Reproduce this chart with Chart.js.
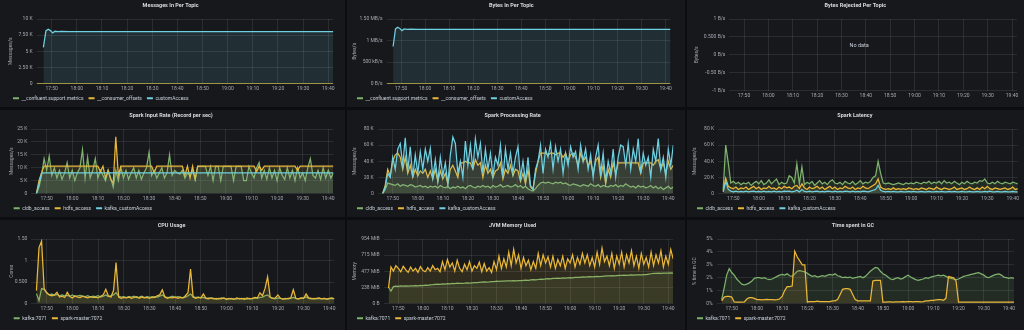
<!DOCTYPE html>
<html>
<head>
<meta charset="utf-8">
<title>Kafka / Spark overview</title>
<script src="https://cdn.jsdelivr.net/npm/chart.js@4.4.1/dist/chart.umd.min.js"></script>
<style>
  html, body { margin: 0; padding: 0; background: #0c0d0f; }
  body { position: relative; width: 1024px; height: 330px; overflow: hidden; }
  .panel { position: absolute; background: #17181c; overflow: hidden; }
  .panel canvas { position: absolute; left: 0; top: 0; }
</style>
</head>
<body>
<div class="panel" style="left:0;top:0;width:345px;height:107px"><canvas id="messagesIn" width="345" height="107"></canvas></div>
<div class="panel" style="left:347px;top:0;width:338px;height:107px"><canvas id="bytesIn" width="338" height="107"></canvas></div>
<div class="panel" style="left:687px;top:0;width:337px;height:107px"><canvas id="bytesRejected" width="337" height="107"></canvas></div>
<div class="panel" style="left:0;top:110px;width:345px;height:107px"><canvas id="inputRate" width="345" height="107"></canvas></div>
<div class="panel" style="left:347px;top:110px;width:338px;height:107px"><canvas id="processingRate" width="338" height="107"></canvas></div>
<div class="panel" style="left:687px;top:110px;width:337px;height:107px"><canvas id="latency" width="337" height="107"></canvas></div>
<div class="panel" style="left:0;top:220px;width:345px;height:110px"><canvas id="cpu" width="345" height="107"></canvas></div>
<div class="panel" style="left:347px;top:220px;width:338px;height:110px"><canvas id="jvm" width="338" height="107"></canvas></div>
<div class="panel" style="left:687px;top:220px;width:337px;height:110px"><canvas id="gc" width="337" height="107"></canvas></div>

<script>
// ---- time axis -------------------------------------------------------------
// sample clock: minutes past 17:00, one sample a minute from 17:46 to 19:42
const clock = Array.from({ length: 117 }, (_, i) => 46 + i);
const timeTicks = ['17:50', '18:00', '18:10', '18:20', '18:30', '18:40', '18:50', '19:00', '19:10', '19:20', '19:30', '19:40'];
const rangeStart = '17:44';
const rangeEnd = '19:42';

// ---- Messages In / Bytes In (steady topics) ---------------------------------
const topicTimes = [46.7, 47.7, 48.6, 49.5, 50.4, 51.3, 52.5, 54, 57, 60, 80, 100, 120, 140, 162];
const idleTimes = [44, 162];
const msgCustomAccess = [5.6, 8.15, 8.4, 8.2, 7.85, 8.1, 8.05, 8.1, 8.05, 8.05, 8.05, 8.03, 8.03, 8.03, 8.03]; // K msg/s
const msgSupportMetrics = [0, 0];
const msgConsumerOffsets = [0, 0];
const bytesCustomAccess = [0.86, 1.27, 1.31, 1.28, 1.23, 1.27, 1.26, 1.265, 1.26, 1.26, 1.26, 1.26, 1.26, 1.26, 1.26]; // MB/s
const bytesSupportMetrics = [0, 0];
const bytesConsumerOffsets = [0, 0];

const msgTicks = ['0', '2.50 K', '5 K', '7.50 K', '10 K'];
const bytesTicks = ['0 B/s', '500 kB/s', '1 MB/s', '1.50 MB/s'];
const rejectedTicks = ['-1 B/s', '-0.50 B/s', '0 B/s', '0.500 B/s', '1 B/s'];

// ---- Spark input rate (K records/s) ------------------------------------------
const inputCldb = [
  0, 2.5, 7, 13.5, 9, 14.5, 7, 10, 6, 9,
  5.5, 8, 12, 6, 9, 5, 8, 10, 17, 6,
  14, 6, 9, 13.5, 6, 9, 7, 5, 9, 6,
  2.5, 9, 5, 10, 6, 9, 5.5, 8, 10, 6,
  9, 5.5, 8, 10, 16, 7, 9, 6, 8, 10,
  6, 8, 15, 7, 9, 8, 7.5, 9, 6, 8,
  7, 9, 5.5, 10.5, 10.5, 10.5, 10.5, 7, 10.5, 5,
  10.5, 10.5, 5, 10.5, 10.5, 10.5, 10.5, 5, 10.5, 10.5,
  10.5, 5, 5, 10.5, 8, 6, 10, 12, 6, 9,
  5.5, 10, 6, 9, 5, 10, 7, 5.5, 10, 6,
  9, 5, 10, 6, 8, 5, 10, 13.5, 7, 6,
  9, 5.5, 10, 6, 9, 6, 8
];
const inputHdfs = [
  0, 5, 8, 10.6, 10.6, 10.6, 10.6, 10.6, 10.6, 10.6,
  10.6, 10.6, 10.6, 10.6, 10.6, 10.6, 10.6, 10.6, 10.6, 10.6,
  10.6, 10.6, 10.6, 10.6, 10.6, 8.5, 10.6, 6, 9, 5.5,
  4, 22, 7, 10.6, 10.6, 10.6, 10.6, 10.6, 10.6, 10.6,
  10.6, 10.6, 10.6, 10.6, 10.6, 10.6, 8, 10.6, 10.6, 10.6,
  10.6, 10.6, 10.6, 10.6, 10.6, 10.6, 10.6, 10.6, 7, 10.6,
  6, 10.6, 5.5, 10.6, 10.6, 10.6, 10.6, 10.6, 10.6, 10.6,
  10.6, 10.6, 10.6, 10.6, 10.6, 10.6, 10.6, 10.6, 10.6, 10.6,
  10.6, 10.6, 10.6, 10.6, 10.6, 10.6, 8.5, 10.6, 9, 10.6,
  10.6, 10.6, 10.6, 10.6, 10.6, 10.6, 10.6, 10.6, 10.6, 10.6,
  10.6, 10.6, 9, 10.6, 10.6, 10.6, 10.6, 10.6, 10.6, 10.6,
  10.6, 10.6, 10.6, 10.6, 10.6, 10.6, 10.6
];
const inputKafkaTimes = [46, 47, 48, 49, 162];
const inputKafka = [0, 3.5, 7.8, 8, 8];
const inputTicks = ['0', '5 K', '10 K', '15 K', '20 K', '25 K'];

// ---- Spark processing rate (K records/s) -------------------------------------
const procCldb = [
  0, 5, 13, 12, 11, 10, 12, 9, 11, 10,
  9, 11, 10, 8, 9, 10, 8, 9, 7, 9,
  8, 9, 7, 10, 8, 7, 9, 6, 8, 7,
  9, 7, 8, 6, 9, 10, 8, 7, 9, 8,
  10, 8, 9, 7, 10, 8, 9, 11, 8, 9,
  10, 8, 9, 11, 8, 10, 7, 9, 6, 4,
  3, 6, 10, 13, 14, 13, 14, 13, 12, 14,
  13, 14, 12, 13, 11, 10, 12, 11, 10, 9,
  11, 10, 9, 12, 10, 9, 11, 8, 10, 9,
  8, 10, 9, 11, 8, 10, 9, 12, 10, 8,
  9, 7, 10, 8, 9, 7, 8, 10, 7, 9,
  6, 8, 5, 7, 9, 6, 8
];
const procHdfs = [
  0, 10, 30, 22, 40, 48, 50, 45, 30, 45,
  25, 35, 20, 30, 22, 28, 25, 30, 20, 28,
  18, 30, 15, 28, 18, 25, 12, 30, 35, 28,
  20, 38, 38, 40, 38, 38, 30, 42, 35, 38,
  20, 35, 25, 30, 20, 28, 30, 38, 18, 30,
  25, 35, 22, 30, 28, 15, 25, 12, 30, 8,
  5, 25, 40, 50, 50, 50, 48, 50, 50, 48,
  50, 50, 45, 50, 40, 48, 50, 45, 35, 50,
  40, 45, 35, 40, 25, 40, 45, 20, 35, 12,
  30, 20, 38, 25, 38, 38, 38, 38, 38, 38,
  38, 38, 38, 25, 38, 38, 38, 38, 35, 40,
  42, 30, 38, 25, 40, 30, 35
];
const procKafka = [
  0, 8, 25, 20, 45, 30, 55, 62, 35, 69,
  28, 58, 20, 48, 25, 52, 30, 55, 40, 56,
  20, 42, 15, 45, 22, 38, 12, 48, 70, 62,
  25, 40, 20, 65, 35, 60, 30, 68, 45, 62,
  25, 55, 30, 50, 22, 45, 35, 60, 20, 55,
  30, 50, 25, 45, 58, 20, 40, 15, 45, 10,
  5, 30, 40, 60, 25, 55, 45, 62, 30, 58,
  40, 55, 25, 50, 35, 58, 45, 52, 30, 60,
  40, 55, 30, 48, 20, 45, 60, 25, 50, 15,
  40, 25, 55, 20, 45, 60, 58, 35, 62, 30,
  55, 40, 68, 25, 50, 35, 45, 20, 55, 40,
  68, 30, 45, 20, 55, 35, 60
];
const rateTicks = ['0', '20 K', '40 K', '60 K', '80 K'];

// ---- Spark latency (K) ---------------------------------------------------------
const latCldb = [
  5, 60, 38, 13, 15, 12, 14, 11, 13, 12,
  14, 10, 13, 15, 12, 16, 11, 13, 17, 12,
  15, 18, 11, 14, 12, 13, 22, 20, 13, 37,
  12, 33, 11, 14, 12, 15, 10, 13, 16, 12,
  14, 11, 15, 17, 13, 12, 14, 11, 15, 13,
  12, 15, 11, 13, 16, 12, 14, 13, 15, 20,
  22, 40, 25, 13, 12, 13, 12, 11, 12, 13,
  12, 11, 13, 12, 13, 12, 14, 13, 12, 14,
  13, 15, 12, 14, 13, 15, 12, 16, 13, 14,
  12, 15, 13, 11, 14, 12, 15, 13, 12, 14,
  13, 16, 15, 18, 13, 12, 14, 12, 15, 13,
  12, 14, 13, 12, 14, 13, 12
];
const latHdfs = [
  3, 19, 9, 7, 6, 8, 5, 7, 6, 8,
  5, 7, 9, 6, 8, 5, 7, 6, 9, 6,
  7, 5, 8, 6, 9, 7, 8, 6, 9, 10,
  6, 12, 7, 5, 8, 6, 7, 9, 6, 8,
  5, 7, 9, 6, 8, 5, 7, 6, 9, 7,
  6, 8, 5, 7, 6, 9, 7, 6, 8, 10,
  12, 18, 8, 6, 5, 6, 5, 7, 5, 6,
  5, 6, 5, 7, 6, 5, 6, 5, 7, 6,
  5, 7, 6, 5, 8, 6, 5, 7, 6, 5,
  6, 8, 5, 6, 7, 5, 6, 8, 6, 5,
  7, 5, 8, 6, 9, 6, 5, 7, 6, 5,
  6, 7, 5, 6, 8, 5, 6
];
const latKafka = [
  2, 15, 5, 3, 2, 3, 2, 2.5, 2, 3,
  2, 2.5, 3, 2, 2.5, 2, 3, 2, 2.5, 2,
  3, 2, 2.5, 2, 3, 2.5, 3, 2, 2.5, 4,
  2, 5, 2.5, 2, 3, 2, 2.5, 3, 2, 2.5,
  2, 3, 2.5, 2, 3, 2, 2.5, 2, 3, 2.5,
  2, 3, 2, 2.5, 2, 3, 2.5, 2, 3, 4,
  5, 10, 4, 2.5, 2, 2.5, 2, 2.5, 2, 2,
  2.5, 2, 2, 2.5, 2, 2.5, 2, 2, 2.5, 2,
  2, 2.5, 2, 2, 2.5, 2, 2.5, 2, 2, 2.5,
  2, 2.5, 2, 2, 2.5, 2, 2, 2.5, 2, 2,
  2.5, 2, 2, 2.5, 2, 3, 2, 2, 2.5, 2,
  2, 2.5, 2, 2, 2.5, 2, 2
];

// ---- CPU usage (cores) -------------------------------------------------------
const cpuKafka = [
  0.23, 0.07, 0.35, 0.33, 0.25, 0.2, 0.22, 0.19, 0.21, 0.18,
  0.2, 0.18, 0.19, 0.17, 0.2, 0.16, 0.18, 0.19, 0.17, 0.16,
  0.18, 0.15, 0.17, 0.16, 0.18, 0.15, 0.17, 0.2, 0.16, 0.18,
  0.2, 0.25, 0.17, 0.15, 0.16, 0.14, 0.16, 0.15, 0.17, 0.14,
  0.15, 0.17, 0.14, 0.16, 0.15, 0.13, 0.16, 0.15, 0.17, 0.2,
  0.16, 0.14, 0.15, 0.17, 0.14, 0.16, 0.15, 0.13, 0.15, 0.18,
  0.22, 0.16, 0.14, 0.15, 0.13, 0.14, 0.12, 0.13, 0.12, 0.11,
  0.12, 0.11, 0.13, 0.12, 0.1, 0.11, 0.12, 0.1, 0.11, 0.12,
  0.11, 0.12, 0.1, 0.12, 0.11, 0.13, 0.12, 0.14, 0.15, 0.18,
  0.2, 0.14, 0.12, 0.11, 0.13, 0.12, 0.11, 0.12, 0.11, 0.12,
  0.14, 0.12, 0.11, 0.12, 0.13, 0.15, 0.12, 0.11, 0.12, 0.11,
  0.12, 0.11, 0.12, 0.1, 0.11, 0.12, 0.11
];
const cpuSpark = [
  0.3, 1.3, 1.45, 0.35, 0.25, 0.2, 0.18, 0.2, 0.26, 0.15,
  0.17, 0.14, 0.26, 0.16, 0.13, 0.18, 0.15, 0.14, 0.17, 0.15,
  0.13, 0.16, 0.14, 0.15, 0.13, 0.17, 0.2, 0.33, 0.18, 0.15,
  0.3, 0.95, 0.15, 0.12, 0.14, 0.13, 0.15, 0.12, 0.14, 0.16,
  0.12, 0.15, 0.13, 0.14, 0.12, 0.16, 0.14, 0.18, 0.2, 0.32,
  0.15, 0.12, 0.14, 0.13, 0.15, 0.12, 0.14, 0.13, 0.18, 0.25,
  0.8, 0.15, 0.12, 0.14, 0.13, 0.22, 0.12, 0.11, 0.13, 0.12,
  0.1, 0.12, 0.11, 0.13, 0.1, 0.12, 0.11, 0.1, 0.13, 0.11,
  0.12, 0.1, 0.13, 0.11, 0.12, 0.14, 0.13, 0.25, 0.18, 0.35,
  0.62, 0.15, 0.12, 0.13, 0.2, 0.12, 0.1, 0.11, 0.12, 0.13,
  0.32, 0.12, 0.11, 0.13, 0.12, 0.22, 0.13, 0.12, 0.11, 0.12,
  0.13, 0.11, 0.12, 0.1, 0.12, 0.13, 0.11
];
const cpuTicks = ['0', '0.500', '1', '1.50'];

// ---- JVM memory used (MiB) -----------------------------------------------------
const jvmKafka = [
  240, 185, 250, 258, 255, 262, 258, 260, 256, 262,
  260, 265, 262, 268, 265, 270, 268, 275, 278, 282,
  285, 282, 290, 288, 295, 292, 297, 295, 300, 298,
  296, 300, 305, 302, 306, 310, 308, 312, 315, 318,
  316, 320, 325, 322, 330, 328, 332, 330, 335, 333,
  336, 338, 335, 340, 338, 342, 345, 343, 348, 352,
  350, 355, 360, 358, 365, 368, 366, 370, 372, 375,
  372, 378, 376, 380, 382, 380, 385, 388, 386, 392,
  390, 394, 396, 395, 398, 400, 398, 402, 405, 408,
  410, 412, 410, 414, 416, 415, 418, 416, 420, 422,
  420, 424, 422, 425, 428, 426, 435, 440, 444, 446,
  448, 446, 450, 448, 450, 452, 450
];
const jvmSpark = [
  230, 540, 480, 560, 520, 470, 550, 500, 460, 540,
  480, 520, 460, 545, 490, 470, 530, 480, 560, 500,
  520, 470, 620, 500, 650, 540, 600, 480, 640, 520,
  470, 580, 500, 620, 480, 560, 520, 610, 470, 590,
  480, 530, 460, 620, 500, 700, 520, 660, 540, 760,
  560, 800, 600, 720, 520, 680, 560, 640, 500, 620,
  520, 740, 560, 720, 600, 690, 540, 700, 520, 650,
  560, 700, 520, 660, 600, 720, 540, 680, 580, 740,
  600, 720, 560, 680, 540, 760, 580, 820, 620, 700,
  560, 740, 520, 700, 580, 760, 540, 720, 600, 780,
  560, 700, 520, 740, 580, 680, 540, 760, 560, 720,
  600, 780, 540, 700, 580, 800, 660
];
const jvmTicks = ['0 B', '238 MiB', '477 MiB', '715 MiB', '954 MiB'];

// ---- time spent in GC (%) ------------------------------------------------------
const gcKafka = [
  0.3, 1.2, 2.2, 2.7, 2.4, 2.2, 1.9, 1.7, 1.5, 1.45,
  1.5, 1.6, 1.75, 1.95, 2.0, 2.0, 1.95, 2.0, 1.9, 1.85,
  1.9, 2.0, 2.1, 2.2, 2.25, 2.2, 2.3, 2.15, 2.1, 2.3,
  2.5, 2.55, 2.5, 2.45, 2.35, 2.2, 2.1, 2.15, 2.05, 2.1,
  2.15, 2.1, 2.2, 2.25, 2.2, 2.3, 2.15, 2.1, 2.0, 2.05,
  2.0, 2.05, 1.95, 2.0, 2.05, 2.1, 2.0, 2.1, 2.3, 2.5,
  2.65, 2.8, 2.75, 2.5, 2.3, 2.2, 2.05, 1.9, 1.85, 1.95,
  2.0, 1.9, 1.95, 2.1, 2.2, 2.05, 1.95, 1.85, 1.8, 1.85,
  1.9, 2.0, 1.95, 2.05, 2.1, 2.15, 2.2, 2.15, 2.2, 2.1,
  2.0, 1.95, 1.9, 1.85, 1.9, 2.0, 2.1, 2.15, 2.2, 2.25,
  2.3, 2.35, 2.4, 2.3, 2.2, 2.05, 2.0, 2.1, 2.2, 2.25,
  2.3, 2.2, 2.05, 2.0, 1.95, 2.0, 1.95
];
const gcSpark = [
  0.2, 0.5, 0.55, 0.55, 0.5, 0.12, 0.1, 0.1, 0.1, 0.12,
  0.35, 0.45, 0.45, 0.4, 0.3, 0.3, 0.28, 0.3, 0.32, 0.3,
  0.3, 0.28, 0.3, 0.35, 0.55, 1.0, 1.3, 1.3, 1.35, 4.05,
  3.6, 3.3, 3.0, 3.0, 0.12, 0.15, 0.15, 0.15, 0.18, 0.15,
  0.15, 0.15, 0.15, 0.15, 0.2, 0.2, 0.3, 0.7, 1.1, 1.15,
  1.15, 1.1, 0.7, 0.3, 0.2, 0.2, 0.2, 0.2, 0.2, 0.2,
  1.75, 1.8, 1.8, 1.8, 0.1, 0.1, 0.12, 0.12, 0.1, 0.12,
  0.12, 0.12, 0.15, 0.12, 0.15, 0.15, 0.12, 0.15, 0.15, 0.12,
  0.15, 0.2, 0.2, 0.25, 0.25, 0.28, 0.3, 0.3, 0.25, 0.4,
  2.1, 2.05, 2.0, 1.75, 0.1, 0.1, 0.1, 0.1, 0.1, 0.1,
  0.1, 0.1, 0.1, 0.1, 0.1, 0.1, 0.1, 0.1, 0.1, 0.1,
  0.1, 0.1, 0.1, 0.1, 0.1, 0.1, 0.1
];
const gcTicks = ['0%', '1%', '2%', '3%', '4%', '5%'];

// ---- styling -----------------------------------------------------------------
const GREEN = '#7eb26d';
const YELLOW = '#eab839';
const BLUE = '#6ed0e0';
const GRID = 'rgba(255, 255, 255, 0.09)';
const TICK = '#a3a9b0';

Chart.defaults.font.family = 'Roboto, sans-serif';

const toMinutes = s => { const [h, m] = s.split(':').map(Number); return h * 60 + m; };
const points = (times, values) => values.map((v, i) => ({ x: 17 * 60 + times[i], y: v }));

// Grafana-style "No data" caption in the middle of an empty graph
const noDataLabel = {
  id: 'noDataLabel',
  afterDraw(chart) {
    const { ctx, chartArea } = chart;
    ctx.save();
    ctx.fillStyle = '#c7d0d9';
    ctx.font = '5.5px Roboto';
    ctx.textAlign = 'center';
    ctx.textBaseline = 'middle';
    ctx.fillText('No data', (chartArea.left + chartArea.right) / 2 - 14, chartArea.top + 27);
    ctx.restore();
  }
};

function panel(id, p) {
  const n = p.series.length;
  return new Chart(document.getElementById(id), {
    type: 'line',
    data: {
      datasets: p.series.map((s, i) => ({
        label: s.label,
        data: points(s.times || clock, s.values),
        borderColor: s.color,
        backgroundColor: s.color + '1f',
        borderWidth: 1.25,
        pointRadius: 0,
        tension: 0,
        fill: 'origin',
        order: n - i // later series are painted on top
      }))
    },
    options: {
      responsive: false,
      animation: false,
      events: [],
      layout: { padding: { left: p.padLeft, right: p.padRight, top: 0, bottom: n ? 0 : 9 } },
      plugins: {
        title: {
          display: true, text: p.title, color: '#d8d9da',
          font: { size: 5.5, weight: 'bold' },
          padding: { top: 2.7, bottom: 9.7 }
        },
        legend: {
          display: n > 0, position: 'bottom', align: 'start', maxHeight: 16.2,
          labels: {
            color: '#c7d0d9', font: { size: 5 }, boxWidth: 6, boxHeight: 2, padding: 5,
            sort: (a, b) => a.datasetIndex - b.datasetIndex,
            generateLabels: chart => Chart.defaults.plugins.legend.labels.generateLabels(chart)
              .map(item => ({ ...item, fillStyle: item.strokeStyle, lineWidth: 0 }))
          }
        },
        tooltip: { enabled: false }
      },
      scales: {
        x: {
          type: 'linear',
          min: toMinutes(rangeStart),
          max: toMinutes(rangeEnd),
          afterBuildTicks: s => { s.ticks = timeTicks.map(t => ({ value: toMinutes(t) })); },
          afterFit: s => { s.height = 7.3; },
          grid: { color: GRID, drawTicks: false },
          border: { display: false },
          ticks: {
            color: TICK, font: { size: 5 }, padding: 2.5, maxRotation: 0, autoSkip: false,
            callback: (v, i) => timeTicks[i]
          }
        },
        y: {
          min: p.min,
          max: p.max,
          afterFit: s => { s.width = p.yWidth; },
          grid: { color: GRID, drawTicks: false },
          border: { display: false },
          ticks: {
            stepSize: p.step, color: TICK, font: { size: 5 }, padding: 4,
            callback: (v, i) => p.ticks[i]
          },
          title: { display: true, text: p.yTitle, color: TICK, font: { size: 5 }, padding: 0 }
        }
      }
    },
    plugins: n ? [] : [noDataLabel]
  });
}

const topicSeries = (support, offsets, custom) => [
  { label: '__confluent.support.metrics', color: GREEN, times: idleTimes, values: support },
  { label: '__consumer_offsets', color: YELLOW, times: idleTimes, values: offsets },
  { label: 'customAccess', color: BLUE, times: topicTimes, values: custom }
];

panel('messagesIn', {
  title: 'Messages In Per Topic', yTitle: 'Messages/s',
  min: 0, max: 10, step: 2.5, ticks: msgTicks,
  padLeft: 8, yWidth: 28.6, padRight: 11.7,
  series: topicSeries(msgSupportMetrics, msgConsumerOffsets, msgCustomAccess)
});

panel('bytesIn', {
  title: 'Bytes In Per Topic', yTitle: 'Bytes/s',
  min: 0, max: 1.5, step: 0.5, ticks: bytesTicks,
  padLeft: 5, yWidth: 34.6, padRight: 14.5,
  series: topicSeries(bytesSupportMetrics, bytesConsumerOffsets, bytesCustomAccess)
});

panel('bytesRejected', {
  title: 'Bytes Rejected Per Topic', yTitle: 'Bytes/s',
  min: -1, max: 1, step: 0.5, ticks: rejectedTicks,
  padLeft: 6.7, yWidth: 35.7, padRight: 7.1,
  series: []
});

panel('inputRate', {
  title: 'Spark Input Rate (Record per sec)', yTitle: 'Messages/s',
  min: 0, max: 25, step: 5, ticks: inputTicks,
  padLeft: 8.7, yWidth: 22.6, padRight: 11.6,
  series: [
    { label: 'cldb_access', color: GREEN, values: inputCldb },
    { label: 'hdfs_access', color: YELLOW, values: inputHdfs },
    { label: 'kafka_customAccess', color: BLUE, times: inputKafkaTimes, values: inputKafka }
  ]
});

panel('processingRate', {
  title: 'Spark Processing Rate', yTitle: 'Messages/s',
  min: 0, max: 80, step: 20, ticks: rateTicks,
  padLeft: 5, yWidth: 25.7, padRight: 11.7,
  series: [
    { label: 'cldb_access', color: GREEN, values: procCldb },
    { label: 'hdfs_access', color: YELLOW, values: procHdfs },
    { label: 'kafka_customAccess', color: BLUE, values: procKafka }
  ]
});

panel('latency', {
  title: 'Spark Latency', yTitle: 'Messages/s',
  min: 0, max: 80, step: 20, ticks: rateTicks,
  padLeft: 5, yWidth: 26.1, padRight: 6.2,
  series: [
    { label: 'cldb_access', color: GREEN, values: latCldb },
    { label: 'hdfs_access', color: YELLOW, values: latHdfs },
    { label: 'kafka_customAccess', color: BLUE, values: latKafka }
  ]
});

panel('cpu', {
  title: 'CPU Usage', yTitle: 'Cores',
  min: 0, max: 1.5, step: 0.5, ticks: cpuTicks,
  padLeft: 8.7, yWidth: 22.6, padRight: 10.6,
  series: [
    { label: 'kafka:7071', color: GREEN, values: cpuKafka },
    { label: 'spark-master:7072', color: YELLOW, values: cpuSpark }
  ]
});

panel('jvm', {
  title: 'JVM Memory Used', yTitle: 'Memory',
  min: 0, max: 954, step: 238.5, ticks: jvmTicks,
  padLeft: 5, yWidth: 31.6, padRight: 11.8,
  series: [
    { label: 'kafka:7071', color: GREEN, values: jvmKafka },
    { label: 'spark-master:7072', color: YELLOW, values: jvmSpark }
  ]
});

panel('gc', {
  title: 'Time spent in GC', yTitle: '% time in GC',
  min: 0, max: 5, step: 1, ticks: gcTicks,
  padLeft: 5, yWidth: 24.6, padRight: 10,
  series: [
    { label: 'kafka:7071', color: GREEN, values: gcKafka },
    { label: 'spark-master:7072', color: YELLOW, values: gcSpark }
  ]
});
</script>
</body>
</html>
